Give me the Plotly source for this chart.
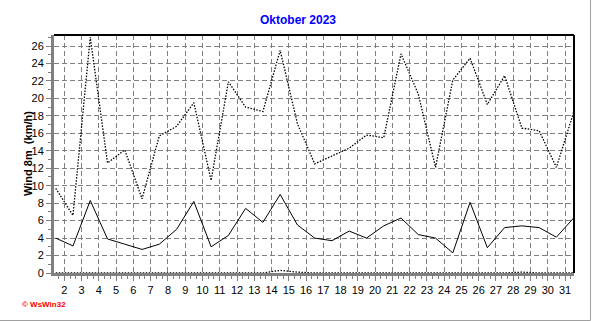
import plotly.graph_objects as go

days = list(range(1, 32))
mean_wind = [4.0, 3.1, 8.3, 3.9, 3.3, 2.7, 3.3, 5.0, 8.2, 3.0, 4.3, 7.4, 5.8, 9.0, 5.5, 4.0,
             3.7, 4.8, 4.0, 5.4, 6.3, 4.4, 4.0, 2.3, 8.1, 2.9, 5.2, 5.4, 5.2, 4.1, 6.3]
gust_wind = [9.7, 6.6, 27.0, 12.6, 14.1, 8.5, 15.7, 16.8, 19.5, 10.6, 21.9, 19.0, 18.5, 25.5, 17.1, 12.5,
             13.4, 14.3, 15.8, 15.5, 25.1, 20.5, 12.1, 22.1, 24.6, 19.3, 22.6, 16.6, 16.3, 12.1, 18.4]
min_wind = [0, 0, 0, 0, 0, 0, 0, 0, 0, 0, 0, 0, 0, 0.3, 0.1, 0,
            0, 0, 0, 0, 0, 0, 0, 0, 0, 0, 0, 0.1, 0, 0, 0]
x_ticks = list(range(2, 32))
y_ticks = list(range(0, 27, 2))

xs = [d + 0.5 for d in days]

fig = go.Figure()
fig.add_trace(go.Scatter(x=xs, y=min_wind, mode="lines",
                         line=dict(color="black", width=1.3, dash="1.5px,1.5px"), showlegend=False))
fig.add_trace(go.Scatter(x=xs, y=gust_wind, mode="lines",
                         line=dict(color="black", width=1.3, dash="1.5px,1.5px"), showlegend=False))
fig.add_trace(go.Scatter(x=xs, y=mean_wind, mode="lines",
                         line=dict(color="black", width=1), showlegend=False))

L, R, T, B = 54, 18, 35, 48
W, H = 592, 321
pw = W - L - R
ph = H - T - B

fig.update_layout(
    width=W, height=H,
    margin=dict(l=L, r=R, t=T, b=B),
    paper_bgcolor="white", plot_bgcolor="white",
    font=dict(family="Liberation Sans, Arial, sans-serif", size=11, color="black"),
    title=dict(text="<b>Oktober 2023</b>", x=298 / W, xref="container", xanchor="center",
               y=1 - 20 / H, yref="container", yanchor="middle",
               font=dict(color="#0000ff", size=12, family="Liberation Sans, Arial, sans-serif")),
    xaxis=dict(range=[1.4, 31.52], tickmode="array", tickvals=x_ticks, ticktext=[str(v) for v in x_ticks],
               showgrid=True, gridcolor="#808080", gridwidth=1, griddash="5px,3px",
               showline=True, linecolor="#808080", linewidth=3,
               ticks="outside", ticklen=5, tickcolor="#808080", tickwidth=1,
               minor=dict(dtick=1 / 3, tick0=0, ticks="outside", ticklen=3, tickcolor="#808080", showgrid=False),
               zeroline=False, fixedrange=True),
    yaxis=dict(range=[0, 27.26], tickmode="array", tickvals=y_ticks, ticktext=[str(v) for v in y_ticks],
               showgrid=True, gridcolor="#808080", gridwidth=1, griddash="5px,3px",
               showline=True, linecolor="#808080", linewidth=3,
               ticks="outside", ticklen=5, tickcolor="#808080", tickwidth=1,
               minor=dict(dtick=1, tick0=0, ticks="outside", ticklen=3, tickcolor="#808080", showgrid=False),
               zeroline=False, fixedrange=True),
    shapes=[
        dict(type="line", xref="paper", yref="paper", x0=0, x1=1, y0=1, y1=1,
             line=dict(color="black", width=2)),
        dict(type="line", xref="paper", yref="paper", x0=1, x1=1, y0=0, y1=1,
             line=dict(color="black", width=2)),
        dict(type="line", xref="paper", yref="paper",
             x0=(590.5 - L) / pw, x1=(590.5 - L) / pw, y0=(H - T) / ph, y1=-(320.5 - (H - B)) / ph,
             line=dict(color="#a0a0a0", width=1)),
        dict(type="line", xref="paper", yref="paper",
             x0=-L / pw, x1=(590.5 - L) / pw, y0=-(320.5 - (H - B)) / ph, y1=-(320.5 - (H - B)) / ph,
             line=dict(color="#a0a0a0", width=1)),
    ],
    annotations=[
        dict(text="<b>Wind 8m  (km/h)</b>", textangle=-90, xref="paper", yref="paper",
             x=(28 - L) / pw, y=0.5, xanchor="center", yanchor="middle", showarrow=False,
             font=dict(size=11, color="black", family="Liberation Sans, Arial, sans-serif")),
        dict(text="<b>© WsWin32</b>", xref="paper", yref="paper",
             x=(20 - L) / pw, y=-(304.5 - (H - B)) / ph, xanchor="left", yanchor="middle", showarrow=False,
             font=dict(size=8, color="#ff0000", family="Liberation Sans, Arial, sans-serif")),
    ],
)

fig.write_html("out.html", config={"displayModeBar": False})
